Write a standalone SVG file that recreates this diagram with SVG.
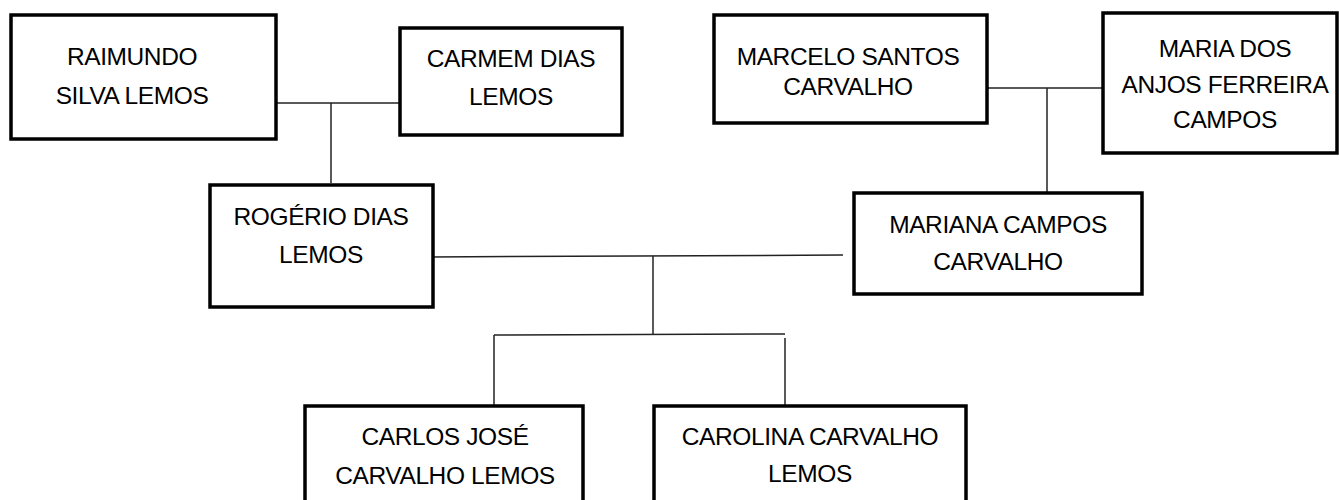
<svg xmlns="http://www.w3.org/2000/svg" width="1339" height="500" viewBox="0 0 1339 500">
<style>
.box{fill:#fff;stroke:#000;stroke-width:3.5}
.t{font-family:"Liberation Sans",Arial,sans-serif;font-size:24.5px;letter-spacing:-0.4px;fill:#000;text-anchor:middle}
.c{stroke:#222;stroke-width:1.5;fill:none}
</style>
<rect width="1339" height="500" fill="#fff"/>
<g id="connectors">
<line class="c" x1="273" y1="103" x2="400" y2="103"/>
<line class="c" x1="331" y1="103" x2="331" y2="183"/>
<line class="c" x1="987" y1="88" x2="1103" y2="88"/>
<line class="c" x1="1047" y1="88" x2="1047" y2="193"/>
<line class="c" x1="430" y1="257" x2="843" y2="255"/>
<line class="c" x1="653" y1="256" x2="653" y2="334"/>
<line class="c" x1="494" y1="335" x2="785" y2="334"/>
<line class="c" x1="494" y1="335" x2="494" y2="406"/>
<line class="c" x1="785" y1="338" x2="785" y2="406"/>
</g>
<g id="raimundo">
<rect class="box" x="11" y="15" width="265" height="124"/>
<text class="t" x="132" y="65">RAIMUNDO</text>
<text class="t" x="132" y="104">SILVA LEMOS</text>
</g>
<g id="carmem">
<rect class="box" x="400" y="28" width="222" height="107"/>
<text class="t" x="511" y="67">CARMEM DIAS</text>
<text class="t" x="511" y="105">LEMOS</text>
</g>
<g id="marcelo">
<rect class="box" x="714" y="15" width="273" height="108"/>
<text class="t" x="848" y="65">MARCELO SANTOS</text>
<text class="t" x="848" y="95">CARVALHO</text>
</g>
<g id="maria">
<rect class="box" x="1103" y="13" width="234" height="140"/>
<text class="t" x="1225" y="57">MARIA DOS</text>
<text class="t" x="1225" y="93">ANJOS FERREIRA</text>
<text class="t" x="1225" y="128">CAMPOS</text>
</g>
<g id="rogerio">
<rect class="box" x="210" y="185" width="223" height="122"/>
<text class="t" x="321" y="225">ROGÉRIO DIAS</text>
<text class="t" x="321" y="263">LEMOS</text>
</g>
<g id="mariana">
<rect class="box" x="854" y="193" width="288" height="101"/>
<text class="t" x="998" y="233">MARIANA CAMPOS</text>
<text class="t" x="998" y="270">CARVALHO</text>
</g>
<g id="carlos">
<rect class="box" x="305" y="406" width="278" height="110"/>
<text class="t" x="445" y="445">CARLOS JOSÉ</text>
<text class="t" x="445" y="484">CARVALHO LEMOS</text>
</g>
<g id="carolina">
<rect class="box" x="654" y="406" width="312" height="110"/>
<text class="t" x="810" y="445">CAROLINA CARVALHO</text>
<text class="t" x="810" y="482">LEMOS</text>
</g>
</svg>
